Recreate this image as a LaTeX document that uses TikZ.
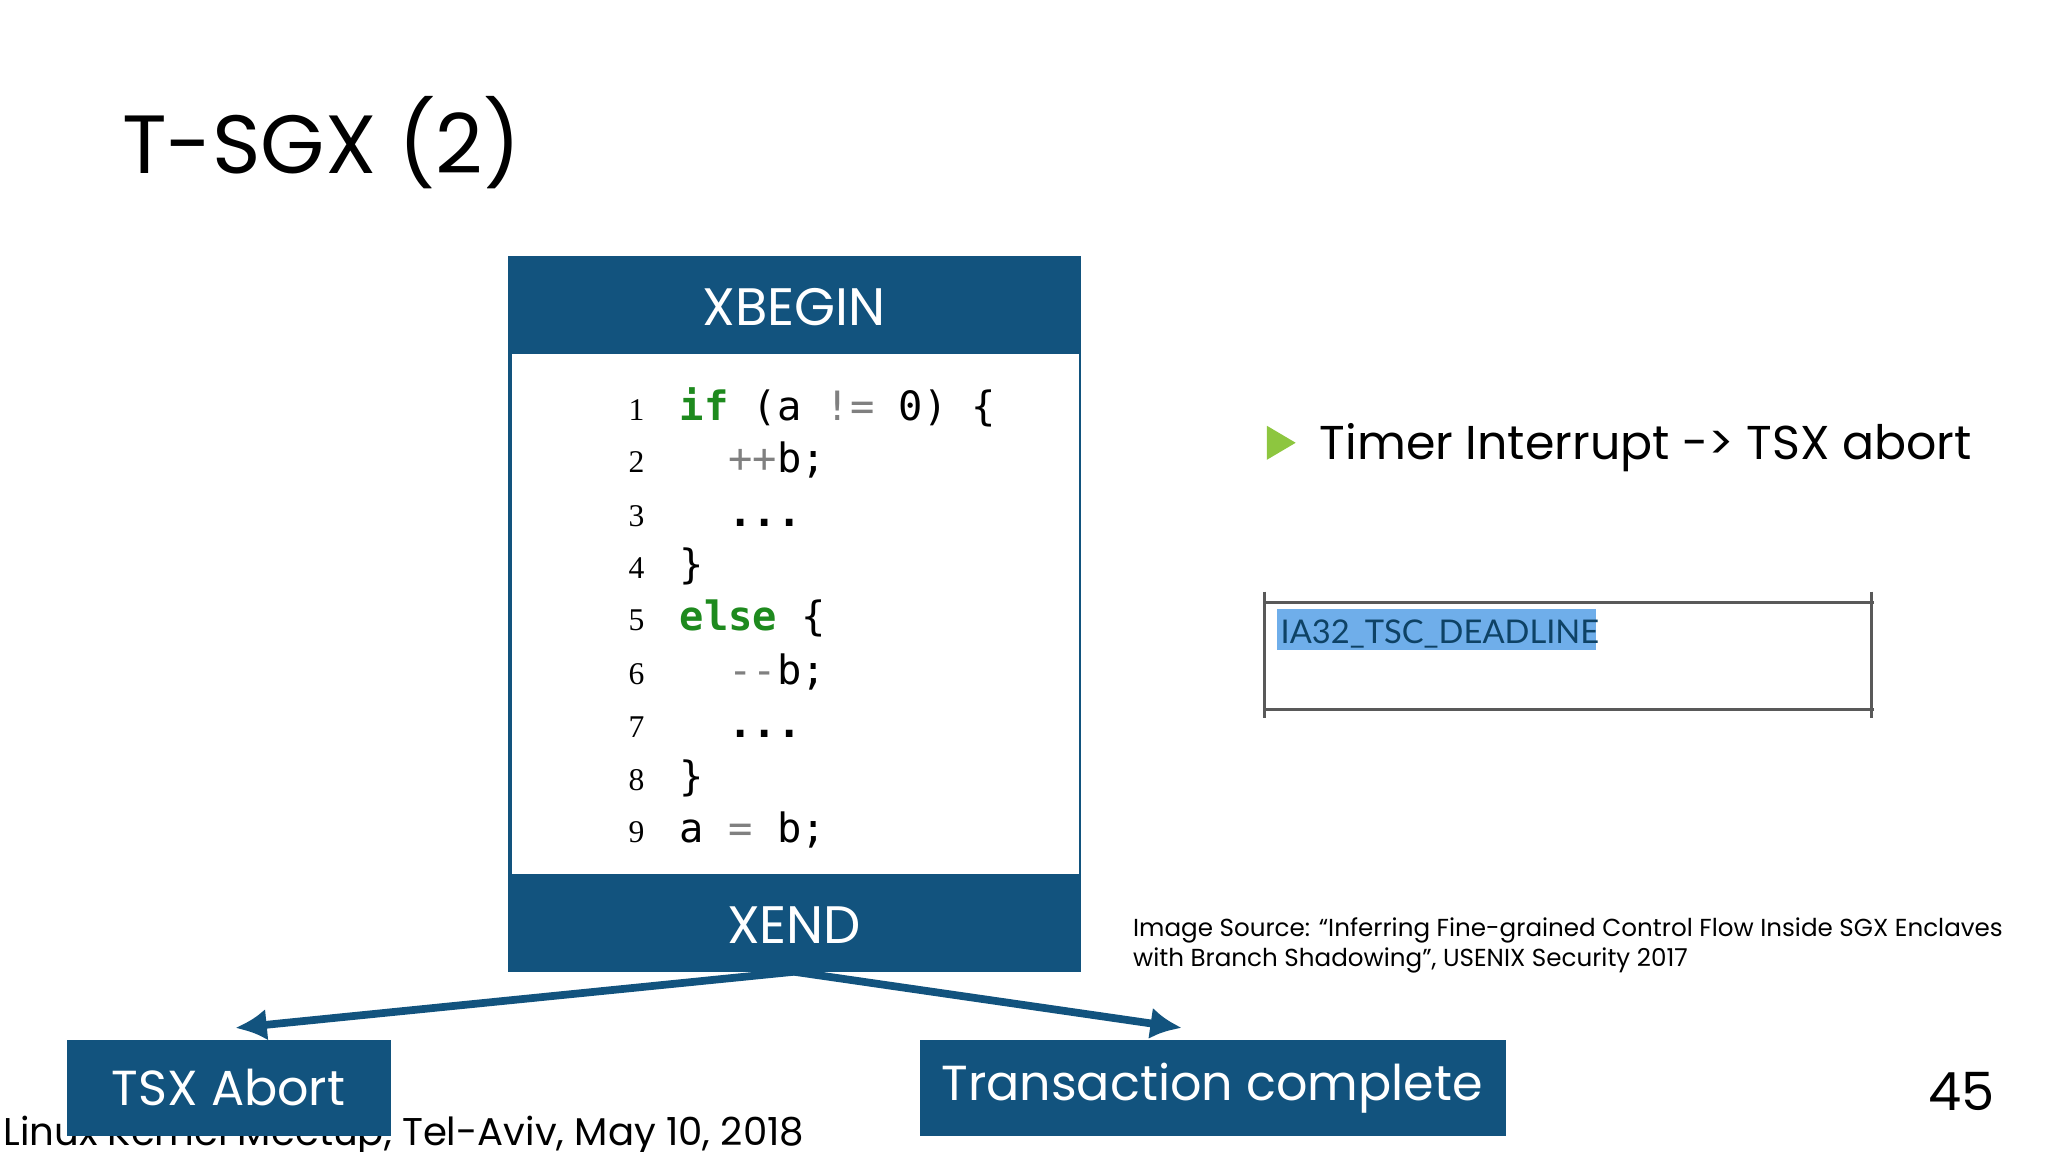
\documentclass[tikz,border=0pt]{standalone}
\usepackage{fontspec}
\usetikzlibrary{arrows.meta}
\setmainfont{Poppins}
\setmonofont{DejaVu Sans Mono}
\newfontfamily\serifnum{Liberation Serif}
\newfontfamily\smallsans{Lato}
\definecolor{sgxblue}{HTML}{12537E}
\definecolor{codegreen}{HTML}{1E8A1E}
\definecolor{bulletgreen}{HTML}{8DC63F}
\definecolor{hl}{HTML}{6FAEEA}
\begin{document}
\begin{tikzpicture}[x=0.01306cm,y=-0.01306cm,
  lbl/.style={text=white,font=\fontsize{14}{17}\selectfont,inner sep=0},
  num/.style={anchor=base east,font=\serifnum\fontsize{9}{10}\selectfont,inner sep=0},
  code/.style={anchor=base west,font=\ttfamily\fontsize{11.5}{14}\selectfont,inner sep=0},
  arr/.style={draw=sgxblue,line width=2.2pt,-{Latex[length=9pt,width=9pt]}}]
\useasboundingbox (0,0) rectangle (1568,882);
\node[anchor=base west,inner sep=0,font=\fontsize{23.5}{28}\selectfont] (title) at (93,133) {T-SGX (2)};
% main box
\fill[sgxblue] (389,196) rectangle (828,744);
\fill[white] (392,271) rectangle (826,669);
\node[lbl,font=\fontsize{15}{18}\selectfont] (xbegin) at (608,235) {XBEGIN};
\node[lbl,font=\fontsize{15}{18}\selectfont] (xend) at (608,708) {XEND};
\coordinate (xendbot) at (608,744);
\foreach \n/\y in {1/322,2/362,3/403,4/443,5/483,6/524,7/565,8/605,9/645}{
  \node[num] (n\n) at (494,\y) {\n};}
\node[code] (c1) at (520,322) {\textcolor{codegreen}{\textbf{if}} (a \textcolor{gray}{!=} 0) \{};
\node[code] (c2) at (520,362) {\ \ \textcolor{gray}{++}b;};
\node[code] (c3) at (520,403) {\ \ \textbf{...}};
\node[code] (c4) at (520,443) {\}};
\node[code] (c5) at (520,483) {\textcolor{codegreen}{\textbf{else}} \{};
\node[code] (c6) at (520,524) {\ \ \textcolor{gray}{-{}-}b;};
\node[code] (c7) at (520,565) {\ \ \textbf{...}};
\node[code] (c8) at (520,605) {\}};
\node[code] (c9) at (520,645) {a \textcolor{gray}{=} b;};
% footer
\node[anchor=base west,inner sep=0,font=\fontsize{11}{13}\selectfont] (foot) at (2,877) {Linux Kernel Meetup, Tel-Aviv, May 10, 2018};
% bottom boxes
\fill[sgxblue] (51,796) rectangle (299,870);
\node[lbl] (abort) at (175,833) {TSX Abort};
\fill[sgxblue] (704,796) rectangle (1153,870);
\node[lbl] (done) at (928,833) {Transaction complete};
\coordinate (aborttop) at (180,787);
\coordinate (donetop) at (905,787);
\draw[arr] (xendbot) -- (aborttop);
\draw[arr] (xendbot) -- (donetop);
% bullet
\fill[bulletgreen] (970,326) -- (992,339) -- (970,352) -- cycle;
\node[anchor=base west,inner sep=0,font=\fontsize{13.5}{16}\selectfont] (bullet) at (1010,352) {Timer Interrupt -> TSX abort};
% register box
\draw[gray!70!black,line width=0.8pt] (968,461) -- (1435,461) (968,543) -- (1435,543);
\draw[gray!70!black,line width=1pt] (968,453) -- (968,550) (1433,453) -- (1433,550);
\fill[hl] (978,466) rectangle (1222,498);
\node[anchor=base west,inner sep=0,text=sgxblue!80!black,font=\smallsans\fontsize{9.3}{11}\selectfont] (reg) at (980,493) {IA32\_TSC\_DEADLINE};
% source
\node[anchor=north west,align=left,inner sep=0,font=\fontsize{7}{8.6}\selectfont] (src) at (867,702) {Image Source: “Inferring Fine-grained Control Flow Inside SGX Enclaves\\with Branch Shadowing”, USENIX Security 2017};
\node[anchor=base east,inner sep=0,font=\fontsize{15}{18}\selectfont] (pg) at (1528,850) {45};
\end{tikzpicture}
\end{document}
